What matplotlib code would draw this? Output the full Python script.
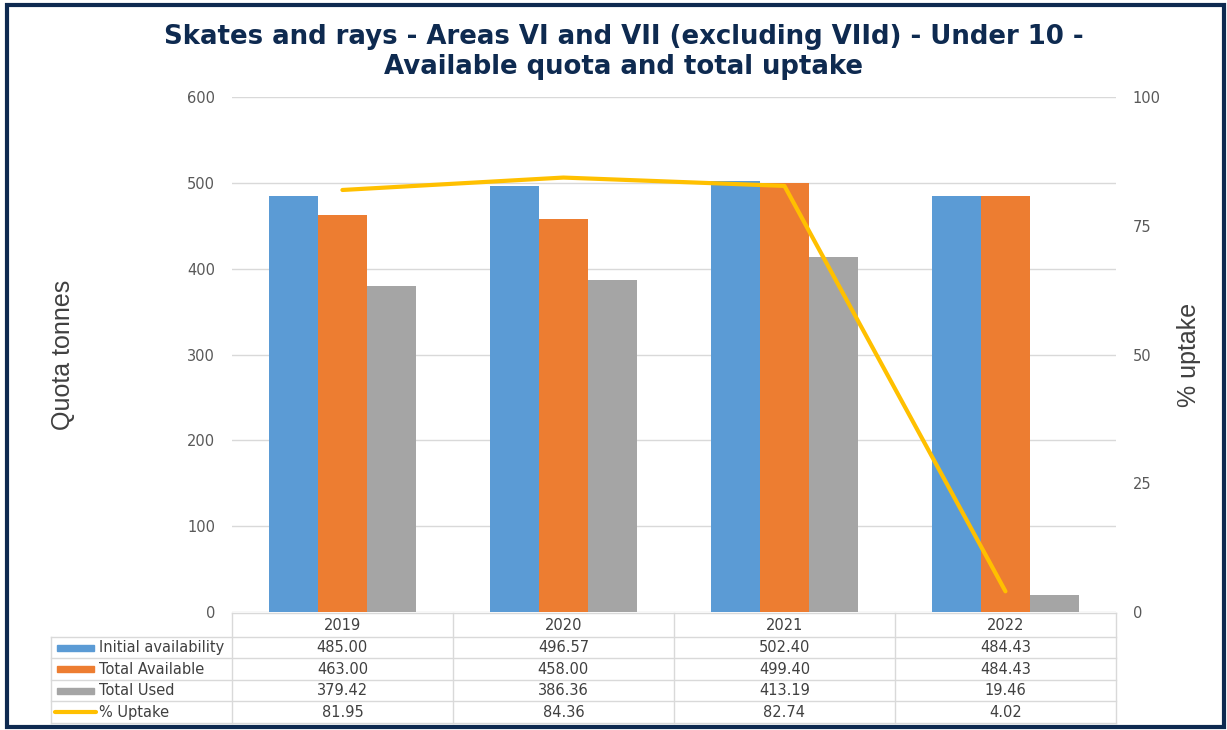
import numpy as np
import matplotlib.pyplot as plt
from matplotlib.patches import Rectangle
from matplotlib.lines import Line2D

plt.rcParams['font.family'] = ['DejaVu Sans']

years = ['2019', '2020', '2021', '2022']
initial = [485.00, 496.57, 502.40, 484.43]
total_avail = [463.00, 458.00, 499.40, 484.43]
total_used = [379.42, 386.36, 413.19, 19.46]
uptake = [81.95, 84.36, 82.74, 4.02]

series_names = ['Initial availability', 'Total Available', 'Total Used', '% Uptake']
colors = ['#5B9BD5', '#ED7D31', '#A5A5A5', '#FFC000']
grid_col = '#d9d9d9'
txt_col = '#404040'

fig = plt.figure(figsize=(12.27, 7.30), dpi=100)
ax = fig.add_axes([0.189, 0.1616, 0.7205, 0.7055])

x = np.arange(len(years))
w = 0.222
for i, vals in enumerate([initial, total_avail, total_used]):
    ax.bar(x + (i - 1) * w, vals, w, color=colors[i], zorder=2)

ax.set_xlim(-0.5, len(years) - 0.5)
ax.set_ylim(0, 600)
ax.set_yticks(range(0, 601, 100))
ax.grid(axis='y', color=grid_col, linewidth=1, zorder=0)
ax.set_xticks([])
for s in ax.spines.values():
    s.set_visible(False)
ax.tick_params(axis='y', length=0, labelsize=10.5, labelcolor='#595959', pad=12)
ax.set_ylabel('Quota tonnes', fontsize=18, color=txt_col, family='Liberation Sans')
ax.yaxis.set_label_coords(-0.178, 0.5)

ax2 = ax.twinx()
ax2.plot(x, uptake, color=colors[3], linewidth=3, zorder=3, solid_capstyle='round')
ax2.set_ylim(0, 100)
ax2.set_yticks(range(0, 101, 25))
for s in ax2.spines.values():
    s.set_visible(False)
ax2.tick_params(axis='y', length=0, labelsize=10.5, labelcolor='#595959', pad=12)
ax2.set_ylabel('% uptake', fontsize=18, color=txt_col, family='Liberation Sans')
ax2.yaxis.set_label_coords(1.069, 0.5)

# data table drawn under the plot (axes coordinates)
ah = 515.0
def py(p):
    return (612 - p) / ah
lab_left = (51 - 232) / 884.0
row_edges = [py(613), py(637), py(658), py(680), py(701), py(723)]
col_edges = [0, 0.25, 0.5, 0.75, 1.0]
kw = dict(transform=ax.transAxes, clip_on=False, color=grid_col, linewidth=1)

# header row
ax.add_line(Line2D([0, 1], [row_edges[0]] * 2, **kw))
for j in range(1, 6):
    ax.add_line(Line2D([lab_left, 1], [row_edges[j]] * 2, **kw))
for c in col_edges:
    ax.add_line(Line2D([c, c], [row_edges[0], row_edges[-1]], **kw))
ax.add_line(Line2D([lab_left, lab_left], [row_edges[1], row_edges[-1]], **kw))

for j, yr in enumerate(years):
    ax.text(j * 0.25 + 0.125, (row_edges[0] + row_edges[1]) / 2, yr, ha='center', va='center',
            fontsize=10.5, color=txt_col, transform=ax.transAxes)

rows = [initial, total_avail, total_used, uptake]
for i, vals in enumerate(rows):
    yc = (row_edges[i + 1] + row_edges[i + 2]) / 2
    for j, v in enumerate(vals):
        ax.text(j * 0.25 + 0.125, yc, '%.2f' % v, ha='center', va='center',
                fontsize=10.5, color=txt_col, transform=ax.transAxes)
    ax.text((99 - 232) / 884.0, yc, series_names[i], ha='left', va='center',
            fontsize=10.5, color=txt_col, transform=ax.transAxes)
    if i < 3:
        ax.add_patch(Rectangle(((57 - 232) / 884.0, yc - 3 / ah), 37 / 884.0, 6 / ah,
                               transform=ax.transAxes, color=colors[i], clip_on=False))
    else:
        ax.add_line(Line2D([(55 - 232) / 884.0, (96 - 232) / 884.0], [yc, yc], transform=ax.transAxes,
                           color=colors[i], linewidth=3, clip_on=False, solid_capstyle='round'))

fig.text(0.508, 0.929, 'Skates and rays - Areas VI and VII (excluding VIId) - Under 10 -\nAvailable quota and total uptake',
         ha='center', va='center', fontsize=18.7, fontweight='bold', color='#0E2A50', linespacing=1.2)

fig.add_artist(Rectangle((0.006, 0.004), 0.9918, 0.989, transform=fig.transFigure,
                         fill=False, edgecolor='#0E2A50', linewidth=3))

fig.savefig('out.png', dpi=100)
